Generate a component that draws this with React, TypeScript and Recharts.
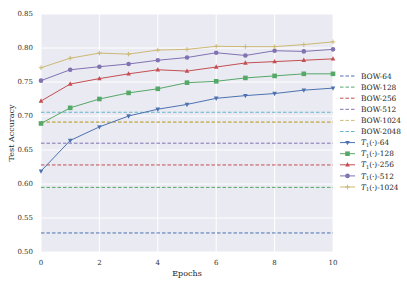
import { LineChart, Line, XAxis, YAxis, CartesianGrid, ReferenceLine } from 'recharts';

const epochs = [0, 1, 2, 3, 4, 5, 6, 7, 8, 9, 10];
const t1_64 = [0.619, 0.664, 0.684, 0.7, 0.71, 0.717, 0.726, 0.73, 0.733, 0.738, 0.741];
const t1_128 = [0.689, 0.712, 0.725, 0.734, 0.74, 0.749, 0.751, 0.756, 0.759, 0.762, 0.762];
const t1_256 = [0.722, 0.747, 0.755, 0.762, 0.768, 0.766, 0.772, 0.778, 0.78, 0.782, 0.784];
const t1_512 = [0.752, 0.768, 0.7725, 0.7765, 0.782, 0.786, 0.793, 0.789, 0.796, 0.795, 0.798];
const t1_1024 = [0.771, 0.785, 0.7925, 0.791, 0.797, 0.798, 0.8025, 0.802, 0.802, 0.805, 0.809];

const bowNames = ['BOW-64', 'BOW-128', 'BOW-256', 'BOW-512', 'BOW-1024', 'BOW-2048'];
const bowValues = [0.528, 0.595, 0.628, 0.66, 0.691, 0.7055];
const bowColors = ['#4C72B0', '#55A868', '#C44E52', '#8172B2', '#CCB974', '#64B5CD'];

const yTicks = [0.5, 0.55, 0.6, 0.65, 0.7, 0.75, 0.8, 0.85];
const xTicks = [0, 2, 4, 6, 8, 10];

const series = [
  { key: 't64', suffix: '-64', values: t1_64, color: '#4C72B0', marker: 'tri_down' },
  { key: 't128', suffix: '-128', values: t1_128, color: '#55A868', marker: 'square' },
  { key: 't256', suffix: '-256', values: t1_256, color: '#C44E52', marker: 'tri_up' },
  { key: 't512', suffix: '-512', values: t1_512, color: '#8172B2', marker: 'circle' },
  { key: 't1024', suffix: '-1024', values: t1_1024, color: '#CCB974', marker: 'star' },
];

const data = epochs.map((e, i) => {
  const row: any = { epoch: e };
  series.forEach(s => { row[s.key] = s.values[i]; });
  return row;
});

const FONT = 'DejaVu Serif';

function drawMarker(kind: string, cx: number, cy: number, color: string, k?: any) {
  const r = 2.3;
  if (kind === 'square') {
    return <rect key={k} x={cx - r} y={cy - r} width={r * 2} height={r * 2} fill={color} />;
  }
  if (kind === 'circle') {
    return <circle key={k} cx={cx} cy={cy} r={r} fill={color} />;
  }
  if (kind === 'tri_up') {
    return <path key={k} d={`M${cx},${cy - r - 0.4} L${cx + r},${cy + r - 0.6} L${cx - r},${cy + r - 0.6} Z`} fill={color} />;
  }
  if (kind === 'tri_down') {
    return <path key={k} d={`M${cx},${cy + r + 0.4} L${cx + r},${cy - r + 0.6} L${cx - r},${cy - r + 0.6} Z`} fill={color} />;
  }
  return (
    <g key={k} stroke={color} strokeWidth={1}>
      <line x1={cx - r} y1={cy} x2={cx + r} y2={cy} />
      <line x1={cx} y1={cy - r} x2={cx} y2={cy + r} />
    </g>
  );
}

const makeDot = (kind: string, color: string) => (props: any) => {
  const { cx, cy, index } = props;
  return drawMarker(kind, cx, cy, color, `d-${index}`);
};

function LegendBox() {
  const rowH = 11.1;
  const y0 = 6;
  return (
    <svg width={72} height={125} style={{ overflow: 'visible' }}>
      {bowNames.map((n, i) => (
        <g key={n}>
          <line x1={4} x2={19} y1={y0 + i * rowH} y2={y0 + i * rowH} stroke={bowColors[i]} strokeWidth={1} strokeDasharray="3.5 2" />
          <text x={25} y={y0 + i * rowH + 2.6} fontSize={7.4} fontFamily={FONT} fill="#222">{n}</text>
        </g>
      ))}
      {series.map((s, j) => {
        const y = y0 + (j + 6) * rowH;
        return (
          <g key={s.key}>
            <line x1={4} x2={19} y1={y} y2={y} stroke={s.color} strokeWidth={1} />
            {drawMarker(s.marker, 11.5, y, s.color)}
            <text x={25} y={y + 2.6} fontSize={7.4} fontFamily={FONT} fill="#222">
              <tspan fontStyle="italic">T</tspan>
              <tspan fontSize={5} dy={1.5}>1</tspan>
              <tspan dy={-1.5}>{'(·)' + s.suffix}</tspan>
            </text>
          </g>
        );
      })}
    </svg>
  );
}

export default function App() {
  return (
    <div style={{ position: 'absolute', left: 0, top: 0, width: 407, height: 285, background: '#fff' }}>
      <LineChart width={407} height={285} data={data} margin={{ top: 14, right: 74, bottom: 13, left: 11 }}>
        <CartesianGrid fill="#EAEAF2" stroke="#ffffff" strokeWidth={1} />
        <XAxis
          dataKey="epoch"
          type="number"
          domain={[0, 10]}
          ticks={xTicks}
          axisLine={false}
          tickLine={false}
          height={20}
          tick={{ fontSize: 7, fontFamily: FONT, fill: '#333' }}
          tickMargin={2}
          label={{ value: 'Epochs', position: 'insideBottom', offset: -4, fontSize: 8, fontFamily: FONT, fill: '#222' }}
        />
        <YAxis
          type="number"
          domain={[0.5, 0.85]}
          ticks={yTicks}
          axisLine={false}
          tickLine={false}
          width={30}
          tickFormatter={(v: number) => v.toFixed(2)}
          tick={{ fontSize: 7, fontFamily: FONT, fill: '#333' }}
          tickMargin={2}
          label={{
            content: () => (
              <text x={14} y={133} transform="rotate(-90 14 133)" textAnchor="middle" fontSize={8} fontFamily={FONT} fill="#222">
                Test Accuracy
              </text>
            ),
          }}
        />
        {bowValues.map((v, i) => (
          <ReferenceLine
            key={bowNames[i]}
            y={v}
            stroke={bowColors[i]}
            strokeWidth={i === 4 ? 1.6 : 1}
            strokeDasharray="3.5 2"
            ifOverflow="visible"
          />
        ))}
        {series.map(s => (
          <Line
            key={s.key}
            dataKey={s.key}
            stroke={s.color}
            strokeWidth={1}
            dot={makeDot(s.marker, s.color)}
            activeDot={false}
            isAnimationActive={false}
          />
        ))}
      </LineChart>
      <div style={{ position: 'absolute', left: 336, top: 70 }}>
        <LegendBox />
      </div>
    </div>
  );
}
